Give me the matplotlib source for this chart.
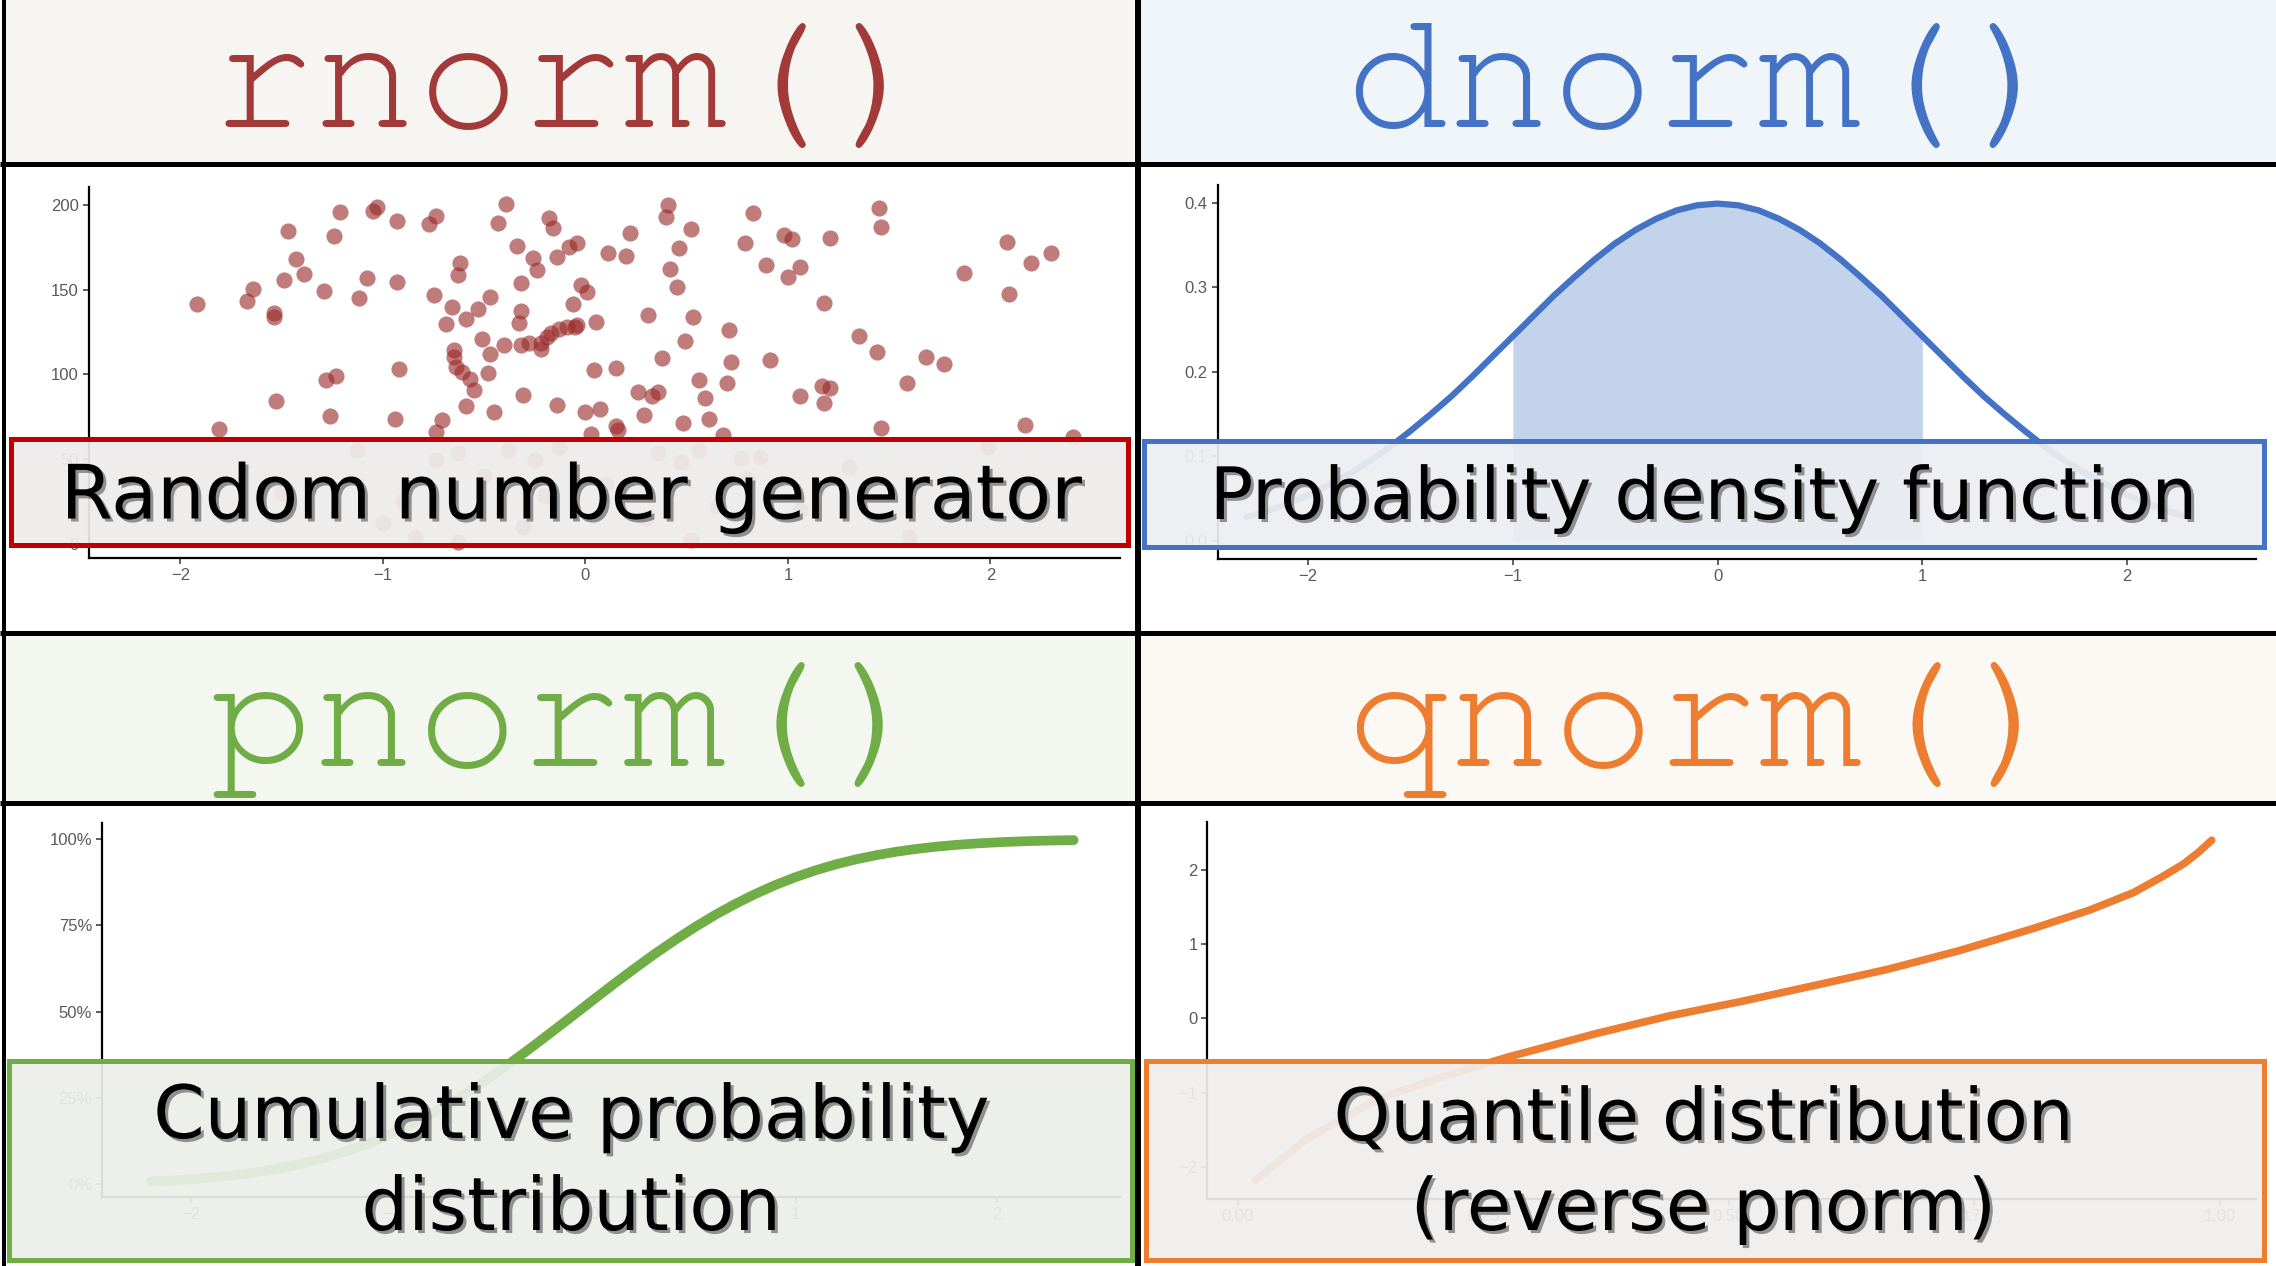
import matplotlib.pyplot as plt
import matplotlib.patheffects as pe
from matplotlib.patches import Rectangle
from matplotlib import font_manager

# Canvas size in pixels
W, H = 2276, 1266

# rnorm() scatter (x = value, y = draw)
rn_x = [-1.92, -1.67, -1.64, -1.54, -1.54, -1.49, -1.47, -1.43, -1.39, -1.29, -1.24, -1.21,
        -1.12, -1.08, -1.05, -1.03, -0.93, -0.93, -0.92, -1.28, -1.23, -1.53, -1.26, -0.94,
        -1.81, -0.77, -0.74, -0.75, -0.66, -0.62, -0.63, -0.69, -0.59, -0.53, -0.47, -0.51,
        -0.65, -0.65, -0.64, -0.61, -0.57, -0.55, -0.48, -0.47, -0.40, -0.32, -0.28, -0.22,
        -0.22, -0.19, -0.17, -0.13, -0.09, -0.05, -0.04, -0.33, -0.32, -0.32, -0.34, -0.26,
        -0.24, -0.43, -0.39, -0.18, -0.16, -0.14, -0.08, -0.04, -0.02, 0.01, -0.06, 0.05,
        0.11, 0.22, 0.20, 0.04, 0.15, -0.31, -0.14, -0.45, -0.59, -0.71, 0.00, 0.07,
        0.15, 0.26, 0.29, 0.33, 0.36, 0.31, 0.38, 0.41, 0.40, 0.52, 0.46, 0.42,
        0.45, 0.53, 0.49, 0.56, 0.59, 0.48, 0.61, 0.71, 0.72, 0.70, 0.79, 0.83,
        0.89, 0.91, 0.98, 1.02, 1.00, 1.06, 1.18, 1.21, 1.06, 1.17, 1.21, 1.18,
        1.35, 1.44, 1.45, 1.46, 1.46, 1.59, 1.68, 1.77, 1.87, 2.08, 2.09, 2.20,
        2.30, 2.17, 2.41, 0.68, -0.74, 0.03, 0.16,
        -1.13, -0.74, -0.63, -0.38, -0.25, -0.13, 0.36, 0.47, 0.56, 0.77, 0.86, 1.60,
        1.99, -0.84, -0.63, -0.31, 0.52, 1.06, -1.50, -0.90, 0.10, 0.30, -0.50, 0.80,
        1.30, -0.20, 0.65, -1.00]
rn_y = [141.5, 143.3, 150.2, 136.4, 134.0, 155.7, 184.8, 168.1, 159.3, 149.0, 181.7, 195.7,
        145.3, 156.7, 196.7, 199.0, 190.6, 154.3, 103.1, 96.7, 99.0, 84.0, 75.4, 73.8,
        67.5, 188.6, 193.5, 146.9, 139.6, 165.6, 158.7, 129.7, 132.5, 138.8, 145.5, 120.9,
        114.2, 110.4, 104.5, 101.6, 97.0, 90.7, 100.6, 111.8, 117.1, 117.3, 118.7, 118.3,
        114.8, 122.2, 124.6, 126.8, 128.1, 128.1, 129.1, 130.1, 137.6, 153.7, 175.8, 168.5,
        161.6, 189.2, 200.8, 192.1, 186.2, 169.5, 175.4, 177.4, 152.8, 148.8, 141.5, 131.1,
        171.9, 183.7, 170.1, 102.6, 103.5, 87.8, 81.9, 78.0, 81.0, 73.0, 78.0, 79.3,
        69.7, 89.8, 76.0, 87.2, 89.8, 135.0, 109.4, 200.0, 192.7, 185.6, 174.4, 162.0,
        151.4, 134.0, 119.9, 96.7, 85.8, 71.0, 73.4, 126.2, 107.5, 95.0, 177.8, 195.1,
        164.6, 108.5, 182.3, 179.7, 157.3, 163.2, 142.3, 180.7, 87.2, 93.1, 91.7, 82.9,
        122.8, 113.0, 198.0, 187.2, 68.5, 95.0, 110.0, 106.1, 160.0, 178.3, 147.2, 166.0,
        171.5, 70.0, 63.2, 64.2, 66.0, 64.6, 67.0,
        55.3, 49.4, 53.3, 55.3, 49.4, 57.3, 53.3, 48.4, 55.3, 50.4, 51.4, 4.1,
        57.3, 4.1, 1.0, 10.0, 2.2, 20.0, 30.0, 25.0, 35.0, 15.0, 40.0, 38.0,
        45.0, 28.0, 22.0, 12.0]
rn_xticks = [-2, -1, 0, 1, 2]
rn_yticks = [0, 50, 100, 150, 200]

# dnorm() curve
dn_x = [-2.3, -2.2, -2.1, -2.0, -1.9, -1.8, -1.7, -1.6, -1.5, -1.4, -1.3, -1.2, -1.1, -1.0,
        -0.9, -0.8, -0.7, -0.6, -0.5, -0.4, -0.3, -0.2, -0.1, 0.0, 0.1, 0.2, 0.3, 0.4,
        0.5, 0.6, 0.7, 0.8, 0.9, 1.0, 1.1, 1.2, 1.3, 1.4, 1.5, 1.6, 1.7, 1.8, 1.9,
        2.0, 2.1, 2.2, 2.3]
dn_y = [0.028, 0.035, 0.044, 0.054, 0.066, 0.079, 0.094, 0.111, 0.130, 0.150, 0.171, 0.194,
        0.218, 0.242, 0.266, 0.290, 0.312, 0.333, 0.352, 0.368, 0.381, 0.391, 0.397, 0.399,
        0.397, 0.391, 0.381, 0.368, 0.352, 0.333, 0.312, 0.290, 0.266, 0.242, 0.218, 0.194,
        0.171, 0.150, 0.130, 0.111, 0.094, 0.079, 0.066, 0.054, 0.044, 0.035, 0.028]
dn_shade = (-1.0, 1.0)
dn_yticks = [0.0, 0.1, 0.2, 0.3, 0.4]

# pnorm() curve (percent)
pn_x = [-2.2, -2.1, -2.0, -1.9, -1.8, -1.7, -1.6, -1.5, -1.4, -1.3, -1.2, -1.1, -1.0,
        -0.9, -0.8, -0.7, -0.6, -0.5, -0.4, -0.3, -0.2, -0.1, 0.0, 0.1, 0.2, 0.3, 0.4,
        0.5, 0.6, 0.7, 0.8, 0.9, 1.0, 1.1, 1.2, 1.3, 1.4, 1.5, 1.6, 1.7, 1.8, 1.9,
        2.0, 2.1, 2.2, 2.3, 2.38]
pn_y = [0.80, 1.02, 1.46, 1.93, 2.53, 3.28, 4.21, 5.33, 6.68, 8.29, 10.15, 12.32, 14.80,
        17.57, 20.67, 24.04, 27.73, 31.67, 35.80, 40.13, 44.59, 49.08, 53.63, 58.12, 62.48,
        66.71, 70.71, 74.51, 78.02, 81.22, 84.13, 86.74, 89.01, 91.00, 92.72, 94.16, 95.37,
        96.37, 97.19, 97.85, 98.37, 98.78, 99.10, 99.34, 99.52, 99.66, 99.74]
pn_yticks = [0, 25, 50, 75, 100]
pn_ylabels = ["0%", "25%", "50%", "75%", "100%"]

# qnorm() curve
qn_p = [0.018, 0.0696, 0.1435, 0.2174, 0.2766, 0.3653, 0.4391, 0.513, 0.587, 0.661,
        0.7347, 0.8087, 0.8678, 0.9121, 0.9417, 0.9638, 0.9786, 0.9919]
qn_q = [-2.18, -1.63, -1.08, -0.75, -0.516, -0.204, 0.032, 0.228, 0.442, 0.658,
        0.912, 1.205, 1.46, 1.694, 1.91, 2.086, 2.24, 2.40]
qn_xticks = [0.0, 0.25, 0.5, 0.75, 1.0]
qn_yticks = [-2, -1, 0, 1, 2]

fig = plt.figure(figsize=(W / 100, H / 100), dpi=100)
fig.patch.set_facecolor("white")


def px_axes(l, t, r, b):
    return fig.add_axes([l / W, 1 - b / H, (r - l) / W, (b - t) / H])


def style(ax):
    ax.patch.set_alpha(0)
    for s in ["top", "right"]:
        ax.spines[s].set_visible(False)
    for s in ["left", "bottom"]:
        ax.spines[s].set_linewidth(1.6)
        ax.spines[s].set_color("black")
    ax.tick_params(length=4, width=1.1, color="#333333", labelsize=12,
                   labelcolor="#5a5a5a", pad=3)
    for lab in ax.get_xticklabels() + ax.get_yticklabels():
        lab.set_family("Liberation Sans")


# top-left: rnorm
ax1 = px_axes(88.7, 186.7, 1120, 558.3)
ax1.scatter(rn_x, rn_y, s=135, color="#9a2a2a", alpha=0.62, linewidths=0)
ax1.set_xlim(-2.453, 2.64)
ax1.set_ylim(-8.7, 210.8)
ax1.set_xticks(rn_xticks)
ax1.set_yticks(rn_yticks)
style(ax1)

# top-right: dnorm
ax2 = px_axes(1217.5, 185, 2256, 559)
sx = [x for x in dn_x if dn_shade[0] <= x <= dn_shade[1]]
sy = [y for x, y in zip(dn_x, dn_y) if dn_shade[0] <= x <= dn_shade[1]]
ax2.fill_between(sx, 0, sy, color="#c3d3ec", linewidth=0)
ax2.plot(dn_x, dn_y, color="#4472c4", lw=4.5, solid_capstyle="round")
ax2.set_xlim(-2.443, 2.63)
ax2.set_ylim(-0.0217, 0.421)
ax2.set_xticks(rn_xticks)
ax2.set_yticks(dn_yticks)
ax2.set_yticklabels([f"{v:.1f}" for v in dn_yticks])
style(ax2)

# bottom-left: pnorm
ax3 = px_axes(101.8, 823, 1120, 1197)
ax3.plot(pn_x, pn_y, color="#70ad47", lw=7, solid_capstyle="round")
ax3.set_xlim(-2.443, 2.61)
ax3.set_ylim(-3.7, 104.7)
ax3.set_xticks(rn_xticks)
ax3.set_yticks(pn_yticks)
ax3.set_yticklabels(pn_ylabels)
style(ax3)

# bottom-right: qnorm
ax4 = px_axes(1207.4, 821.7, 2256, 1199)
ax4.plot(qn_p, qn_q, color="#ed7d31", lw=5.5, solid_capstyle="round",
         solid_joinstyle="round")
ax4.set_xlim(-0.031, 1.037)
ax4.set_ylim(-2.435, 2.65)
ax4.set_xticks(qn_xticks)
ax4.set_xticklabels([f"{v:.2f}" for v in qn_xticks])
ax4.set_yticks(qn_yticks)
style(ax4)

# overlay in pixel coordinates
ov = fig.add_axes([0, 0, 1, 1], zorder=10)
ov.set_xlim(0, W)
ov.set_ylim(H, 0)
ov.axis("off")
ov.patch.set_alpha(0)

# title bands
bands = [(5, 0, 1135, 162, "#f7f5f2"), (1141, 0, W, 162, "#eff5f9"),
         (5, 634, 1135, 801, "#f4f6f0"), (1141, 634, W, 801, "#fcf8f3")]
for l, t, r, b, c in bands:
    ov.add_patch(Rectangle((l, t), r - l, b - t, facecolor=c, edgecolor="none"))

# divider lines
lw_px = 72 / 100
ov.plot([1138, 1138], [0, H], color="black", lw=6 * lw_px, solid_capstyle="butt")
for y in [164, 632.5, 802.5]:
    ov.plot([0, W], [y, y], color="black", lw=5 * lw_px, solid_capstyle="butt")
ov.plot([4.5, 4.5], [0, H], color="black", lw=4 * lw_px, solid_capstyle="butt")

# function names
avail = {f.name for f in font_manager.fontManager.ttflist}
mono = next((f for f in ["Courier New", "Nimbus Mono PS", "FreeMono", "Liberation Mono",
                         "DejaVu Sans Mono"] if f in avail), "monospace")
titles = [("rnorm()", 572, 127, "#a33a3a"), ("dnorm()", 1706, 127, "#4472c4"),
          ("pnorm()", 571, 766, "#70ad47"), ("qnorm()", 1707, 766, "#ed7d31")]
for txt, x, y, c in titles:
    ov.text(x, y, txt, family=mono, fontsize=124, color=c, ha="center", va="baseline")

# caption boxes
boxes = [(11.5, 438.5, 1128.5, 545, "#c00000", "#eeeceb"),
         (1144.5, 440.5, 2264.5, 547, "#4472c4", "#eceef1"),
         (9.5, 1060.5, 1132, 1259.5, "#70ad47", "#ebeee9"),
         (1146, 1060.5, 2264.5, 1259.5, "#ed7d31", "#f0eeec")]
for l, t, r, b, ec, fc in boxes:
    ov.add_patch(Rectangle((l, t), r - l, b - t, facecolor=fc, alpha=0.93,
                           edgecolor="none"))
    ov.add_patch(Rectangle((l, t), r - l, b - t, facecolor="none", edgecolor=ec,
                           lw=5 * lw_px))

shadow = [pe.withSimplePatchShadow(offset=(2.2, -2.2), shadow_rgbFace="#333333",
                                   alpha=0.5)]
captions = [("Random number generator", 571, 518.5, 54),
            ("Probability density function", 1703.5, 519, 52),
            ("Cumulative probability", 571, 1138, 53),
            ("distribution", 571, 1230, 53),
            ("Quantile distribution", 1703.5, 1140, 52),
            ("(reverse pnorm)", 1703.5, 1230, 52)]
for txt, x, y, fs in captions:
    ov.text(x, y, txt, family="DejaVu Sans", fontsize=fs, color="black",
            ha="center", va="baseline", path_effects=shadow)

fig.savefig("out.png", dpi=100)
